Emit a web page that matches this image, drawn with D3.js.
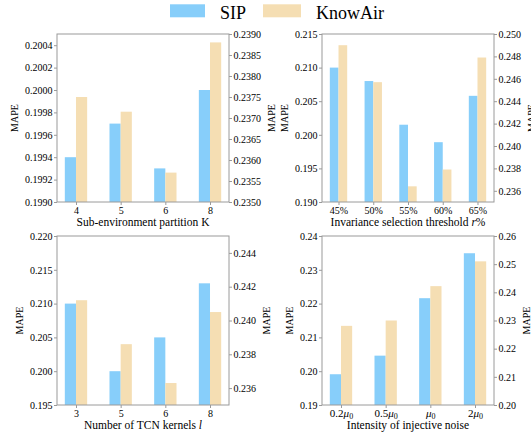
<!DOCTYPE html>
<html>
<head>
<meta charset="utf-8">
<script src="https://cdn.jsdelivr.net/npm/d3@7"></script>
<style>
  body { margin: 0; background: #fff; }
  svg text, svg tspan { font-family: "Liberation Serif" !important; }
</style>
</head>
<body>
<script>
// ---- data ----
var seriesNames = ["SIP", "KnowAir"];

// sub-environment partition K
var catsK = ["4", "5", "6", "8"];
var sipK = [0.1994, 0.1997, 0.1993, 0.2000];
var airK = [0.2375, 0.23715, 0.2357, 0.2388];
var ticksKLeft = [0.1990, 0.1992, 0.1994, 0.1996, 0.1998, 0.2000, 0.2002, 0.2004];
var ticksKRight = [0.2350, 0.2355, 0.2360, 0.2365, 0.2370, 0.2375, 0.2380, 0.2385, 0.2390];

// invariance selection threshold r%
var catsR = ["45%", "50%", "55%", "60%", "65%"];
var sipR = [0.2100, 0.2080, 0.2015, 0.1989, 0.2058];
var airR = [0.2490, 0.2457, 0.2364, 0.2379, 0.2479];
var ticksRLeft = [0.190, 0.195, 0.200, 0.205, 0.210, 0.215];
var ticksRRight = [0.236, 0.238, 0.240, 0.242, 0.244, 0.246, 0.248, 0.250];

// number of TCN kernels l
var catsL = ["3", "5", "6", "8"];
var sipL = [0.2100, 0.2000, 0.2050, 0.2130];
var airL = [0.2412, 0.2386, 0.2363, 0.2405];
var ticksLLeft = [0.195, 0.200, 0.205, 0.210, 0.215, 0.220];
var ticksLRight = [0.236, 0.238, 0.240, 0.242, 0.244];

// intensity of injective noise (coefficient of mu_0)
var catsN = ["0.2", "0.5", "", "2"];
var sipN = [0.1991, 0.2046, 0.2216, 0.2349];
var airN = [0.2281, 0.2300, 0.2422, 0.2510];
var ticksNLeft = [0.19, 0.20, 0.21, 0.22, 0.23, 0.24];
var ticksNRight = [0.20, 0.21, 0.22, 0.23, 0.24, 0.25, 0.26];

var blue = "#87CEFA";
var wheat = "#F5DEB3";
var spine = "#9a9a9a";

var w = 531, h = 433;
var svg = d3.select("body").append("svg")
  .attr("width", w)
  .attr("height", h)
  .style("font-family", "Liberation Serif");

var panels = [
  { x0: 57, x1: 229, y0: 34, y1: 202, cats: catsK, a: sipK, b: airK,
    left: [0.1990, 0.2005], right: [0.2350, 0.2390],
    lt: ticksKLeft, rt: ticksKRight, lf: ".4f", rf: ".4f",
    xlabel: [{ t: "Sub-environment partition K" }] },
  { x0: 322, x1: 494, y0: 34, y1: 202, cats: catsR, a: sipR, b: airR,
    left: [0.190, 0.215], right: [0.235, 0.250],
    lt: ticksRLeft, rt: ticksRRight, lf: ".3f", rf: ".3f",
    xlabel: [{ t: "Invariance selection threshold " }, { t: "r", i: true }, { t: "%" }] },
  { x0: 57, x1: 229, y0: 236, y1: 405, cats: catsL, a: sipL, b: airL,
    left: [0.195, 0.220], right: [0.235, 0.245],
    lt: ticksLLeft, rt: ticksLRight, lf: ".3f", rf: ".3f",
    xlabel: [{ t: "Number of TCN kernels " }, { t: "l", i: true }] },
  { x0: 322, x1: 494, y0: 236, y1: 405, cats: catsN, a: sipN, b: airN,
    left: [0.19, 0.24], right: [0.20, 0.26],
    lt: ticksNLeft, rt: ticksNRight, lf: ".2f", rf: ".2f", mu: true,
    xlabel: [{ t: "Intensity of injective noise" }] }
];

function styleAxis(g) {
  g.attr("font-family", null).attr("font-size", null);
  g.select(".domain").remove();
  g.selectAll(".tick line").attr("stroke", spine);
  g.selectAll(".tick text").style("font-size", "10px");
}

function drawPanel(p) {
  var n = p.cats.length;
  var m = 0.05 * (n - 0.5);
  var x = d3.scaleLinear().domain([-0.25 - m, n - 0.75 + m]).range([p.x0, p.x1]);
  var yl = d3.scaleLinear().domain(p.left).range([p.y1, p.y0]);
  var yr = d3.scaleLinear().domain(p.right).range([p.y1, p.y0]);
  var g = svg.append("g");

  // bars
  g.selectAll(".sip").data(p.a).enter().append("rect")
    .attr("x", function(d, i) { return x(i - 0.25); })
    .attr("width", x(0.25) - x(0))
    .attr("y", function(d) { return yl(d); })
    .attr("height", function(d) { return p.y1 - yl(d); })
    .attr("fill", blue);
  g.selectAll(".air").data(p.b).enter().append("rect")
    .attr("x", function(d, i) { return x(i); })
    .attr("width", x(0.25) - x(0))
    .attr("y", function(d) { return yr(d); })
    .attr("height", function(d) { return p.y1 - yr(d); })
    .attr("fill", wheat);

  // frame
  g.append("rect")
    .attr("x", p.x0).attr("y", p.y0)
    .attr("width", p.x1 - p.x0).attr("height", p.y1 - p.y0)
    .attr("fill", "none").attr("stroke", spine).attr("stroke-width", 1);

  // axes
  var ga = g.append("g").attr("transform", "translate(" + p.x0 + ",0)")
    .call(d3.axisLeft(yl).tickValues(p.lt).tickFormat(d3.format(p.lf)).tickSize(3).tickPadding(1.5))
    .call(styleAxis);
  var gb = g.append("g").attr("transform", "translate(" + p.x1 + ",0)")
    .call(d3.axisRight(yr).tickValues(p.rt).tickFormat(d3.format(p.rf)).tickSize(3).tickPadding(1.5))
    .call(styleAxis);
  var gx = g.append("g").attr("transform", "translate(0," + p.y1 + ")")
    .call(d3.axisBottom(x).tickValues(d3.range(n)).tickFormat(function(i) { return p.cats[i]; }).tickSize(3).tickPadding(1.5))
    .call(styleAxis);

  if (p.mu) {
    gx.selectAll(".tick text").each(function(i) {
      var t = d3.select(this).text(null).style("font-size", "11px");
      t.append("tspan").text(p.cats[i]);
      t.append("tspan").style("font-style", "italic").text("\u03bc");
      t.append("tspan").attr("dy", "0.2em").style("font-size", "8px").text("0");
    });
  }

  // y labels
  var cy = (p.y0 + p.y1) / 2;
  var lw = ga.node().getBBox().width;
  var rw = gb.node().getBBox().width;
  [p.x0 - lw - 10.5, p.x1 + rw + 10.5].forEach(function(cx) {
    g.append("text")
      .attr("transform", "translate(" + cx + "," + cy + ") rotate(-90)")
      .attr("text-anchor", "middle")
      .attr("dominant-baseline", "central")
      .style("font-size", "10px")
      .text("MAPE");
  });

  // x label
  var xl = g.append("text")
    .attr("x", (p.x0 + p.x1) / 2)
    .attr("y", p.y1 + 24)
    .attr("text-anchor", "middle")
    .style("font-size", "11.5px");
  p.xlabel.forEach(function(s) {
    xl.append("tspan").style("font-style", s.i ? "italic" : "normal").text(s.t);
  });
}

panels.forEach(drawPanel);

// legend
var leg = svg.append("g");
var legX = [170, 263];
var legTextX = [220, 316];
seriesNames.forEach(function(name, i) {
  leg.append("rect")
    .attr("x", legX[i]).attr("y", 4.3)
    .attr("width", i === 0 ? 35 : 38).attr("height", 13)
    .attr("fill", i === 0 ? blue : wheat);
  leg.append("text")
    .attr("x", legTextX[i]).attr("y", 18.5)
    .style("font-size", "18px")
    .text(name);
});
</script>
</body>
</html>
